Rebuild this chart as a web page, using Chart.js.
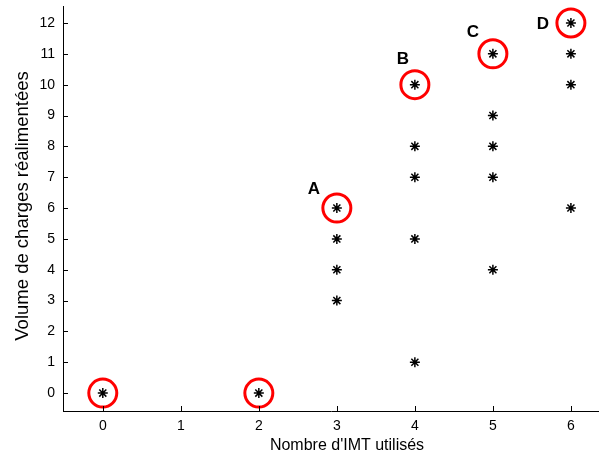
<!DOCTYPE html>
<html>
<head>
<meta charset="utf-8">
<script src="https://cdn.jsdelivr.net/npm/chart.js@4"></script>
<style>
  html, body { margin: 0; padding: 0; background: #fff; overflow: hidden; }
  #wrap { width: 599px; height: 457px; }
</style>
</head>
<body>
<div id="wrap"><canvas id="chart" width="599" height="457"></canvas></div>
<script>
// Data
const imtUsed   = [0, 2, 3, 3, 3, 3, 4, 4, 4, 4, 4, 5, 5, 5, 5, 5, 6, 6, 6, 6];
const chargeVol = [0, 0, 3, 4, 5, 6, 1, 5, 7, 8, 10, 4, 7, 8, 9, 11, 6, 10, 11, 12];

// Circled points (best per IMT count) and their letters
const bestImt    = [0, 2, 3, 4, 5, 6];
const bestVol    = [0, 0, 6, 10, 11, 12];
const bestLetter = ['', '', 'A', 'B', 'C', 'D'];

const xTicks = [0, 1, 2, 3, 4, 5, 6];
const yTicks = [0, 1, 2, 3, 4, 5, 6, 7, 8, 9, 10, 11, 12];

const xTitle = "Nombre d'IMT utilisés";
const yTitle = 'Volume de charges réalimentées';

const FONT = 'Arial, "Liberation Sans", sans-serif';

// inward tick marks + axis titles, like the original plot
const axisDecor = {
    id: 'axisDecor',
    afterDraw(chart) {
        const ctx = chart.ctx;
        const xs = chart.scales.x, ys = chart.scales.y;
        const area = chart.chartArea;
        ctx.save();
        ctx.strokeStyle = '#000';
        ctx.lineWidth = 1;
        ctx.beginPath();
        xTicks.forEach(v => {
            const px = Math.round(xs.getPixelForValue(v)) + 0.5;
            ctx.moveTo(px, area.bottom);
            ctx.lineTo(px, area.bottom - 5);
        });
        yTicks.forEach(v => {
            const py = Math.round(ys.getPixelForValue(v)) + 0.5;
            ctx.moveTo(area.left, py);
            ctx.lineTo(area.left + 5, py);
        });
        ctx.stroke();

        ctx.fillStyle = '#000';
        ctx.textAlign = 'center';
        ctx.textBaseline = 'middle';
        ctx.font = '16px ' + FONT;
        ctx.fillText(xTitle, 347, 446);
        ctx.font = '18.5px ' + FONT;
        ctx.translate(23, 206);
        ctx.rotate(-Math.PI / 2);
        ctx.fillText(yTitle, 0, 0);
        ctx.restore();
    }
};

// letters next to the circled points
const letterOffsets = [[0, 0], [0, 0], [-23, -19], [-12, -25], [-20, -21], [-28, 1]];
const pointLetters = {
    id: 'pointLetters',
    afterDatasetsDraw(chart) {
        const ctx = chart.ctx;
        const xs = chart.scales.x, ys = chart.scales.y;
        ctx.save();
        ctx.font = 'bold 17px ' + FONT;
        ctx.fillStyle = '#000';
        ctx.textAlign = 'center';
        ctx.textBaseline = 'middle';
        bestLetter.forEach((t, i) => {
            if (!t) return;
            const px = xs.getPixelForValue(bestImt[i]) + letterOffsets[i][0];
            const py = ys.getPixelForValue(bestVol[i]) + letterOffsets[i][1];
            ctx.fillText(t, px, py);
        });
        ctx.restore();
    }
};

new Chart(document.getElementById('chart'), {
    type: 'scatter',
    data: {
        datasets: [{
            label: 'points',
            data: imtUsed.map((x, i) => ({ x: x, y: chargeVol[i] })),
            pointStyle: 'star',
            pointRadius: 5,
            borderColor: '#000',
            backgroundColor: '#000',
            borderWidth: 1.5
        }, {
            label: 'best',
            data: bestImt.map((x, i) => ({ x: x, y: bestVol[i] })),
            pointStyle: 'circle',
            pointRadius: 14,
            borderColor: '#ff0000',
            backgroundColor: 'rgba(0,0,0,0)',
            borderWidth: 3
        }]
    },
    options: {
        responsive: false,
        animation: false,
        events: [],
        layout: { autoPadding: false, padding: { top: 6, right: 0, left: 0, bottom: 0 } },
        plugins: {
            legend: { display: false },
            tooltip: { enabled: false }
        },
        scales: {
            x: {
                type: 'linear',
                min: -0.51,
                max: 6.36,
                afterBuildTicks: s => { s.ticks = xTicks.map(v => ({ value: v })); },
                afterFit: s => { s.height = 46; s.paddingLeft = 0; s.paddingRight = 0; },
                grid: { display: false, drawTicks: false, tickLength: 0 },
                border: { display: true, color: '#000', width: 1 },
                ticks: { color: '#000', padding: 7, font: { family: FONT, size: 14 } }
            },
            y: {
                type: 'linear',
                min: -0.58,
                max: 12.55,
                afterBuildTicks: s => { s.ticks = yTicks.map(v => ({ value: v })); },
                afterFit: s => { s.width = 63; s.paddingTop = 0; s.paddingBottom = 0; },
                grid: { display: false, drawTicks: false, tickLength: 0 },
                border: { display: true, color: '#000', width: 1 },
                ticks: { color: '#000', padding: 8, font: { family: FONT, size: 14 } }
            }
        }
    },
    plugins: [axisDecor, pointLetters]
});
</script>
</body>
</html>
